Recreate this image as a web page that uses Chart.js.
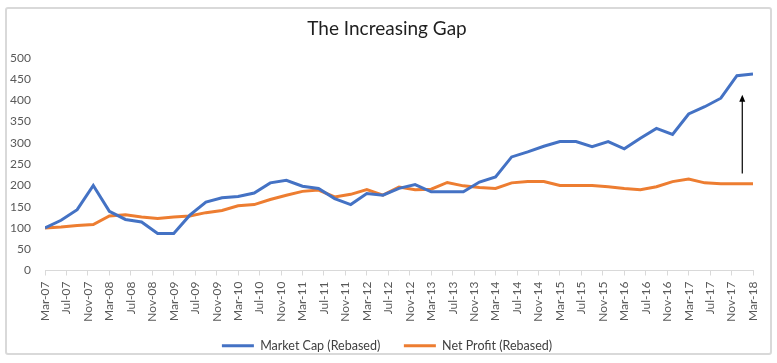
<!DOCTYPE html>
<html>
<head>
<meta charset="utf-8">
<script src="https://cdn.jsdelivr.net/npm/chart.js@4.4.1/dist/chart.umd.min.js"></script>
<style>
  html, body { margin: 0; padding: 0; background: #fff; }
  #wrap { position: relative; width: 777px; height: 363px; }
  #frame { position: absolute; left: 5px; top: 7px; width: 763px; height: 344px; border: 2px solid #d9d9d9; border-radius: 3px; pointer-events: none; }
</style>
</head>
<body>
<div id="wrap">
  <canvas id="gapChart" width="777" height="363"></canvas>
  <div id="frame"></div>
</div>
<script>
// quarterly observations
const quarters = [
  'Mar-07', 'Jun-07', 'Sep-07', 'Dec-07', 'Mar-08', 'Jun-08', 'Sep-08', 'Dec-08',
  'Mar-09', 'Jun-09', 'Sep-09', 'Dec-09', 'Mar-10', 'Jun-10', 'Sep-10', 'Dec-10',
  'Mar-11', 'Jun-11', 'Sep-11', 'Dec-11', 'Mar-12', 'Jun-12', 'Sep-12', 'Dec-12',
  'Mar-13', 'Jun-13', 'Sep-13', 'Dec-13', 'Mar-14', 'Jun-14', 'Sep-14', 'Dec-14',
  'Mar-15', 'Jun-15', 'Sep-15', 'Dec-15', 'Mar-16', 'Jun-16', 'Sep-16', 'Dec-16',
  'Mar-17', 'Jun-17', 'Sep-17', 'Dec-17', 'Mar-18'
];
const marketCap = [
  100, 118, 143, 200, 139, 120, 114, 87, 87, 130, 161, 171, 174, 182, 206, 212,
  198, 193, 169, 155, 181, 177, 193, 202, 185, 185, 185, 208, 220, 267, 279, 292,
  303, 303, 291, 303, 286, 311, 334, 320, 368, 385, 405, 458, 462
];
const netProfit = [
  100, 102, 106, 108, 128, 131, 126, 122, 126, 128, 136, 141, 152, 155, 167, 177,
  186, 189, 173, 179, 190, 177, 196, 190, 191, 207, 199, 195, 193, 206, 209, 209,
  200, 200, 200, 197, 193, 190, 197, 209, 215, 206, 204, 204, 204
];
// axis labels, every 4 months
const tickLabels = [
  'Mar-07', 'Jul-07', 'Nov-07', 'Mar-08', 'Jul-08', 'Nov-08', 'Mar-09', 'Jul-09', 'Nov-09',
  'Mar-10', 'Jul-10', 'Nov-10', 'Mar-11', 'Jul-11', 'Nov-11', 'Mar-12', 'Jul-12', 'Nov-12',
  'Mar-13', 'Jul-13', 'Nov-13', 'Mar-14', 'Jul-14', 'Nov-14', 'Mar-15', 'Jul-15', 'Nov-15',
  'Mar-16', 'Jul-16', 'Nov-16', 'Mar-17', 'Jul-17', 'Nov-17', 'Mar-18'
];
const yTicks = [0, 50, 100, 150, 200, 250, 300, 350, 400, 450, 500];

const monthNames = ['Jan', 'Feb', 'Mar', 'Apr', 'May', 'Jun', 'Jul', 'Aug', 'Sep', 'Oct', 'Nov', 'Dec'];
const start = quarters[0];
function monthOf(label) {
  const [m, y] = label.split('-');
  return parseInt(y, 10) * 12 + monthNames.indexOf(m);
}
function offset(label) {
  return monthOf(label) - monthOf(start);
}
const toPoints = (vals) => vals.map((v, i) => ({ x: offset(quarters[i]), y: v }));

// the arrow showing the gap at the end
const gapArrow = {
  id: 'gapArrow',
  afterDatasetsDraw(chart) {
    const { ctx, scales: { x, y } } = chart;
    const px = x.getPixelForValue(130);
    const y0 = y.getPixelForValue(228);
    const y1 = y.getPixelForValue(413);
    ctx.save();
    ctx.strokeStyle = '#000';
    ctx.fillStyle = '#000';
    ctx.lineWidth = 1.2;
    ctx.beginPath();
    ctx.moveTo(px, y0);
    ctx.lineTo(px, y1 + 5);
    ctx.stroke();
    ctx.beginPath();
    ctx.moveTo(px, y1);
    ctx.lineTo(px - 3, y1 + 7);
    ctx.lineTo(px + 3, y1 + 7);
    ctx.closePath();
    ctx.fill();
    ctx.restore();
  }
};

const ctx = document.getElementById('gapChart').getContext('2d');
const gapChart = new Chart(ctx, {
    type: 'line',
    data: {
        datasets: [{
            label: 'Market Cap (Rebased)',
            data: toPoints(marketCap),
            borderColor: '#4472C4',
            backgroundColor: '#4472C4',
            borderWidth: 3,
            pointRadius: 0,
            tension: 0,
            fill: false
        }, {
            label: 'Net Profit (Rebased)',
            data: toPoints(netProfit),
            borderColor: '#ED7D31',
            backgroundColor: '#ED7D31',
            borderWidth: 3,
            pointRadius: 0,
            tension: 0,
            fill: false
        }]
    },
    plugins: [gapArrow],
    options: {
        responsive: false,
        animation: false,
        layout: { padding: { left: 0, right: 3, top: 0, bottom: 1 } },
        plugins: {
            title: {
                display: true,
                text: 'The Increasing Gap',
                color: '#1f1f1f',
                font: { family: 'Lato', size: 19, weight: 'normal' },
                padding: { top: 17, bottom: 18 }
            },
            legend: {
                position: 'bottom',
                labels: {
                    usePointStyle: true,
                    pointStyle: 'line',
                    pointStyleWidth: 32,
                    padding: 8,
                    color: '#404040',
                    font: { family: 'Lato', size: 12.5 },
                    generateLabels(chart) {
                        const items = Chart.defaults.plugins.legend.labels.generateLabels(chart);
                        // wider gap between the two entries
                        items[0].text += '\u2003\u2002';
                        return items;
                    }
                }
            },
            tooltip: { enabled: false }
        },
        scales: {
            x: {
                type: 'linear',
                min: 0,
                max: 132,
                afterFit(scale) { scale.height = 61; },
                afterBuildTicks(scale) {
                    scale.ticks = tickLabels.map((t) => ({ value: offset(t) }));
                },
                ticks: {
                    autoSkip: false,
                    maxRotation: 90,
                    minRotation: 90,
                    padding: 6,
                    color: '#595959',
                    font: { family: 'Lato', size: 12 },
                    callback: (v) => tickLabels.find((t) => offset(t) === v) || ''
                },
                grid: { drawOnChartArea: false, drawTicks: true, tickLength: 5, color: '#d9d9d9' },
                border: { display: true, color: '#d9d9d9', width: 1 }
            },
            y: {
                min: 0,
                max: 500,
                afterFit(scale) { scale.width = 45; },
                afterBuildTicks(scale) {
                    scale.ticks = yTicks.map((v) => ({ value: v }));
                },
                ticks: {
                    padding: 14,
                    color: '#595959',
                    font: { family: 'Lato', size: 12 }
                },
                grid: { display: false, drawTicks: false },
                border: { display: false }
            },
            // empty right margin, keeps the plot where the reference has it
            yRight: {
                position: 'right',
                min: 0,
                max: 500,
                afterFit(scale) { scale.width = 21; },
                ticks: { display: false },
                grid: { display: false, drawTicks: false },
                border: { display: false }
            }
        }
    }
});
</script>
</body>
</html>
